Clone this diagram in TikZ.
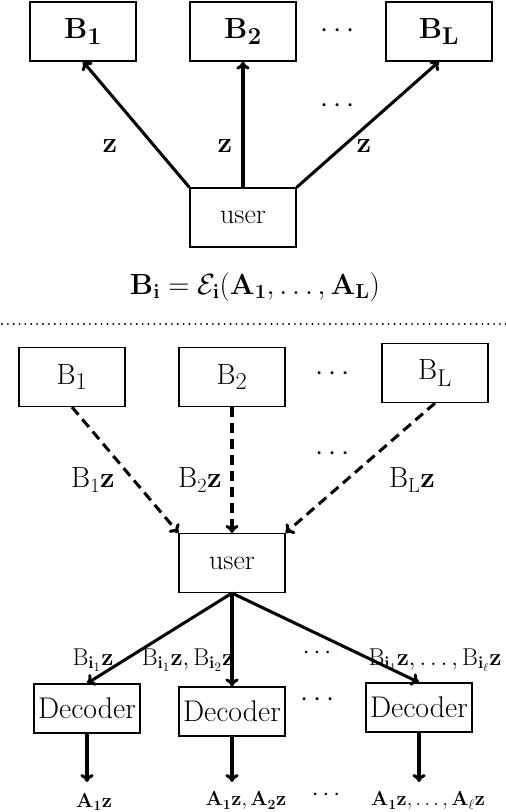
\documentclass[tikz,border=0pt]{standalone}
\usepackage{amsmath}
\usepackage{tikz}
\usetikzlibrary{arrows.meta,positioning}

\begin{document}
\begin{tikzpicture}[
  x=0.03cm, y=-0.03cm,
  >={To[length=2.4mm, width=4mm]},
  party/.style={draw, line width=1pt, minimum width=3.18cm, minimum height=1.77cm,
    inner sep=0pt, font=\fontsize{29}{34}\selectfont},
  user/.style={party, font=\fontsize{24}{28}\selectfont},
  decoder/.style={party, minimum height=1.47cm, font=\fontsize{25.5}{30}\selectfont},
  query/.style={->, line width=2.6pt},
  answer/.style={->, line width=2.6pt, dash pattern=on 0.3cm off 0.18cm},
  lbl/.style={font=\fontsize{24}{28}\selectfont},
  small lbl/.style={font=\fontsize{21}{25}\selectfont},
  ]
  \useasboundingbox (0,0) rectangle (506,812);

  % upper part: the user sends z to the servers
  \node[party] (tB1) at (83,31.5) {$\mathbf{B_1}$};
  \node[party] (tB2) at (243,31.5) {$\mathbf{B_2}$};
  \node[party] (tBL) at (439,31.5) {$\mathbf{B_L}$};
  \node[lbl] (tdots) at (340,31) {$\cdots$};
  \node[user] (tuser) at (243,217.5) {user};

  \draw[query] (tuser.north west) -- (tB1.south);
  \draw[query] (tuser.north) -- (tB2.south);
  \draw[query] (tuser.north east) -- (tBL.south);

  \node[lbl] (tz1) at (110,146) {$\mathbf{z}$};
  \node[lbl] (tz2) at (225,146) {$\mathbf{z}$};
  \node[lbl] (tz3) at (364,146) {$\mathbf{z}$};
  \node[lbl] (tdots2) at (340,106) {$\cdots$};

  \node[font=\fontsize{26}{30}\selectfont] (eq) at (255,287)
    {$\mathbf{B_i} = \mathcal{E}_\mathbf{i}(\mathbf{A_1},\ldots,\mathbf{A_L})$};

  % separator
  \draw[line width=1.8pt, dash pattern=on 0pt off 5pt, line cap=round] (2,324) -- (506,324);

  % lower part: the servers answer, the user decodes
  \node[party] (bB1) at (72,377) {$\mathrm{B}_1$};
  \node[party] (bB2) at (232,377) {$\mathrm{B}_2$};
  \node[party] (bBL) at (435,373) {$\mathrm{B}_\mathrm{L}$};
  \node[lbl] (bdots) at (335,374) {$\cdots$};
  \node[user] (buser) at (232,563) {user};

  \draw[answer] (bB1.south) -- (buser.north west);
  \draw[answer] (bB2.south) -- (buser.north);
  \draw[answer] (bBL.south) -- (buser.north east);

  \node[lbl] (a1) at (93,480) {$\mathrm{B}_1\mathbf{z}$};
  \node[lbl] (a2) at (200,480) {$\mathrm{B}_2\mathbf{z}$};
  \node[lbl] (aL) at (412,480) {$\mathrm{B}_\mathrm{L}\mathbf{z}$};
  \node[lbl] (adots) at (335,454) {$\cdots$};

  \node[decoder] (D1) at (87,708.5) {Decoder};
  \node[decoder] (D2) at (232,711.5) {Decoder};
  \node[decoder] (D3) at (419,707.5) {Decoder};
  \node[lbl] (Ddots) at (320,700) {$\cdots$};

  \draw[query] (buser.south) -- (D1.north);
  \draw[query] (buser.south) -- (D2.north);
  \draw[query] (buser.south) -- (D3.north);

  \node[small lbl] (d1) at (93,660) {$\mathrm{B}_{\mathbf{i}_1}\mathbf{z}$};
  \node[small lbl] (d2) at (188,660) {$\mathrm{B}_{\mathbf{i}_1}\mathbf{z}, \mathrm{B}_{\mathbf{i}_2}\mathbf{z}$};
  \node[small lbl, font=\fontsize{19.5}{23}\selectfont, anchor=east, inner sep=1pt] (d3) at (503,660)
    {$\mathrm{B}_{\mathbf{i}_1}\mathbf{z},\ldots,\mathrm{B}_{\mathbf{i}_\ell}\mathbf{z}$};
  \node[small lbl] (ddots) at (319,653) {$\cdots$};

  % decoded outputs
  \coordinate (o1) at (87,782);
  \coordinate (o2) at (232,782);
  \coordinate (o3) at (419,782);
  \draw[query] (D1.south) -- (o1);
  \draw[query] (D2.south) -- (o2);
  \draw[query] (D3.south) -- (o3);

  \node[font=\fontsize{18}{22}\selectfont] (r1) at (94,802) {$\mathbf{A_1 z}$};
  \node[font=\fontsize{18}{22}\selectfont] (r2) at (246,801) {$\mathbf{A_1 z}, \mathbf{A_2 z}$};
  \node[font=\fontsize{18}{22}\selectfont] (r3) at (428,801) {$\mathbf{A_1 z},\ldots,\mathbf{A}_\ell\mathbf{z}$};
  \node[small lbl] (rdots) at (328,795) {$\cdots$};
\end{tikzpicture}
\end{document}
